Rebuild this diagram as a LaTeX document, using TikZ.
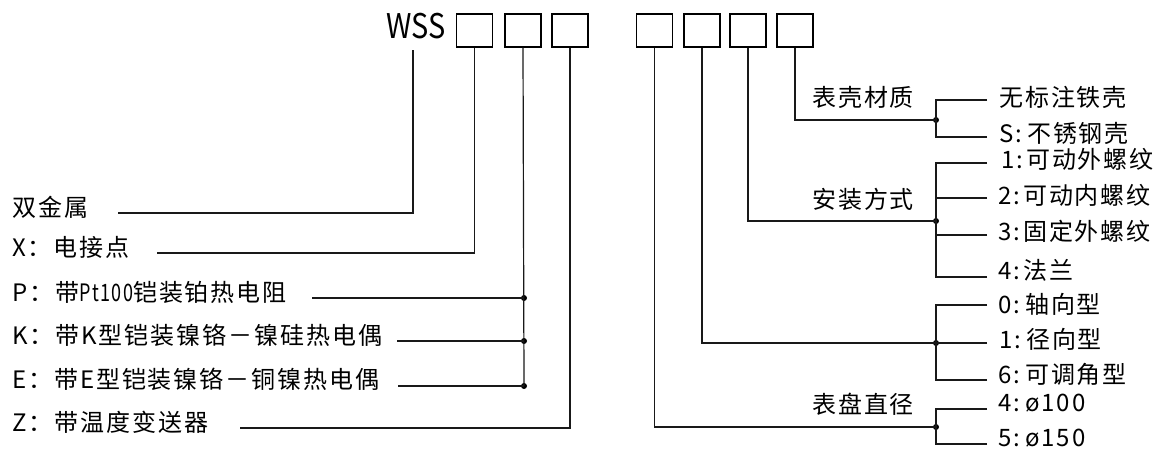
\documentclass[tikz,border=0pt]{standalone}
\usepackage{fontspec}
\setmainfont{Noto Sans CJK SC}[LetterSpace=8]
\newfontfamily\wssfont{Noto Sans CJK SC}
\newcommand\narrowlat[1]{\scalebox{0.75}[1]{#1}}
\begin{document}
\begin{tikzpicture}[x=1pt,y=-1pt,
  box/.style={draw, minimum width=36pt, minimum height=33pt, inner sep=0pt, line width=1.2pt},
  lbl/.style={anchor=west, inner sep=0pt, text height=0.8em, text depth=0.07em, font=\fontsize{24}{26}\selectfont},
  dot/.style={circle, fill, inner sep=0pt, minimum size=6pt},
  ln/.style={line width=1.2pt, draw=black!90}]
\useasboundingbox (0,0) rectangle (1156,453);
% title and boxes
\node[anchor=base east, inner sep=0pt, font=\wssfont\fontsize{34}{34}\selectfont] (w) at (446,38) {\scalebox{0.85}[1]{WSS}};
\node[box] (b1) at (474.5,30.5) {};
\node[box] (b2) at (523,30.5) {};
\node[box] (b3) at (570,30.5) {};
\node[box] (b4) at (654.5,30.5) {};
\node[box] (b5) at (702,30.5) {};
\node[box] (b6) at (748,30.5) {};
\node[box] (b7) at (795,30.5) {};
% left labels
\node[lbl] (t1) at (12,213) {双金属};
\node[lbl] (t2) at (12,253) {X：电接点};
\node[lbl] (t3) at (12,298) {P：带\narrowlat{Pt100}铠装铂热电阻};
\node[lbl] (t4) at (12,341) {K：带K型铠装镍铬－镍硅热电偶};
\node[lbl] (t5) at (12,385) {E：带E型铠装镍铬－铜镍热电偶};
\node[lbl] (t6) at (12,428) {Z：带温度变送器};
\coordinate (w0) at (413,50);
\coordinate (s1) at (118,213);
\coordinate (s2) at (157,253);
\coordinate (s3) at (312,298);
\coordinate (s4) at (397,341);
\coordinate (s5) at (398,386);
\coordinate (s6) at (240,428);
\node[dot] (d3) at (524,298) {};
\node[dot] (d4) at (524,341) {};
\node[dot] (d5) at (524,386) {};
\draw[ln] (s1) -| (w0);
\draw[ln] (s2) -| (b1.south);
\draw[ln] (s3) -- (d3.center);
\draw[ln] (s4) -- (d4.center);
\draw[ln] (s5) -- (d5.center);
\draw[ln] (b2.south) -- (d5.center);
\draw[ln] (s6) -| (b3.south);
% right: case material
\node[lbl] (m0) at (812,103) {表壳材质};
\node[lbl] (m1) at (999,103) {无标注铁壳};
\node[lbl] (m2) at (999,139) {S:\hspace{5pt}不锈钢壳};
\node[dot] (r1) at (936,120) {};
\coordinate (e11) at (987,100);
\coordinate (e12) at (987,137);
\draw[ln] (b7.south) |- (r1.center);
\draw[ln] (e11) -| (r1.center);
\draw[ln] (e12) -| (r1.center);
% installation
\node[lbl] (n0) at (812,205) {安装方式};
\node[lbl] (n1) at (1001,165) {1:\hspace{3pt}可动外螺纹};
\node[lbl] (n2) at (998,201) {2:\hspace{3pt}可动内螺纹};
\node[lbl] (n3) at (998,237) {3:\hspace{3pt}固定外螺纹};
\node[lbl] (n4) at (998,276) {4:\hspace{3pt}法兰};
\node[dot] (r2) at (936,221) {};
\coordinate (e21) at (987,163);
\coordinate (e22) at (987,198);
\coordinate (e23) at (987,235);
\coordinate (e24) at (987,277);
\draw[ln] (b6.south) |- (r2.center);
\draw[ln] (e21) -| (r2.center);
\draw[ln] (e24) -| (r2.center);
\draw[ln] (e22) -- (e22 -| r2.center);
\draw[ln] (e23) -- (e23 -| r2.center);
% direction
\node[lbl] (p1) at (998,310) {0:\hspace{5pt}轴向型};
\node[lbl] (p2) at (999,345) {1:\hspace{5pt}径向型};
\node[lbl] (p3) at (998,380) {6:\hspace{5pt}可调角型};
\node[dot] (r3) at (936,343) {};
\coordinate (e31) at (987,305);
\coordinate (e32) at (987,343);
\coordinate (e33) at (987,380);
\draw[ln] (b5.south) |- (r3.center);
\draw[ln] (e31) -| (r3.center);
\draw[ln] (e33) -| (r3.center);
\draw[ln] (e32) -- (r3.center);
% dial diameter
\node[lbl] (q0) at (812,410) {表盘直径};
\node[lbl] (q1) at (998,408) {4:\hspace{5pt}ø100};
\node[lbl] (q2) at (998,443) {5:\hspace{5pt}ø150};
\node[dot] (r4) at (936,427) {};
\coordinate (e41) at (987,409);
\coordinate (e42) at (987,444);
\draw[ln] (b4.south) |- (r4.center);
\draw[ln] (e41) -| (r4.center);
\draw[ln] (e42) -| (r4.center);
\end{tikzpicture}
\end{document}
